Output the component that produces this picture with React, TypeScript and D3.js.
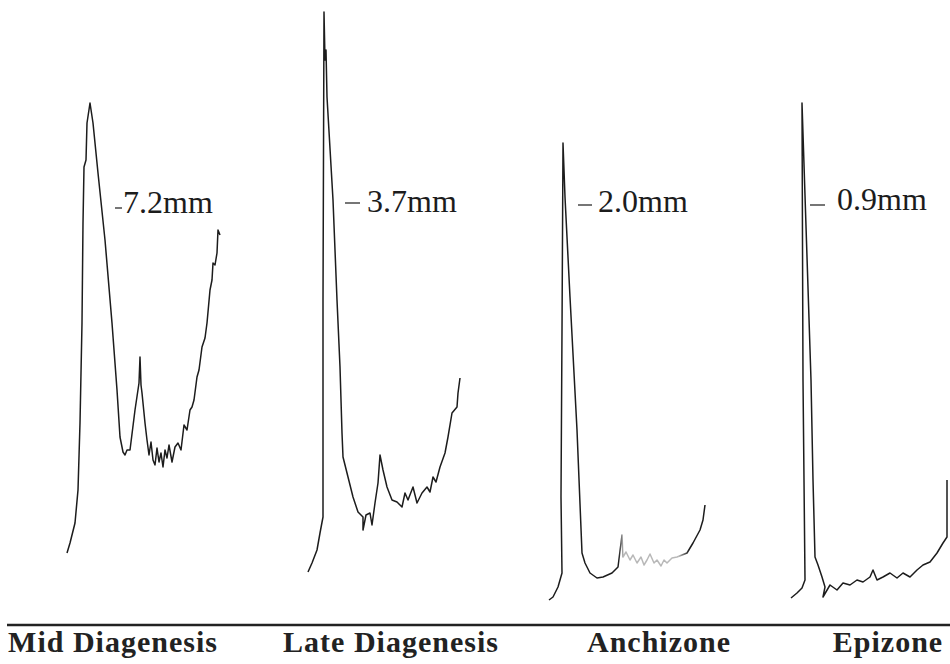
import * as d3 from "d3";
import { useEffect, useRef } from "react";

// categories (grades of metamorphism) and the peak widths
const categories = ["Mid Diagenesis", "Late Diagenesis", "Anchizone", "Epizone"];
const widths = ["7.2mm", "3.7mm", "2.0mm", "0.9mm"];

// traces: [position along the scan, intensity]
const midDiagenesis: [number, number][] = [
  [7, 57], [10, 67], [15, 87], [18, 120], [20, 187], [22, 287], [23, 387], [24, 443],
  [26, 450], [27, 487], [30, 507], [33, 487], [38, 437], [45, 370], [52, 287], [57, 220],
  [60, 173], [63, 158], [65, 155], [67, 160], [70, 160], [75, 200], [79, 227], [80, 253],
  [81, 225], [82, 217], [85, 187], [87, 170], [89, 155], [91, 168], [93, 150], [95, 145],
  [97, 162], [99, 148], [101, 157], [103, 143], [105, 160], [107, 152], [109, 165],
  [112, 148], [115, 163], [118, 167], [121, 160], [124, 185], [127, 180], [130, 200],
  [132, 203], [134, 210], [137, 233], [139, 240], [142, 263], [145, 272], [147, 287],
  [150, 320], [152, 330], [153, 347], [155, 345], [157, 357], [158, 380], [160, 375],
];

const lateDiagenesis: [number, number][] = [
  [6, 38], [10, 47], [15, 60], [18, 77], [21, 93], [21, 310], [22, 598], [23, 550],
  [24, 560], [25, 513], [31, 410], [35, 310], [38, 243], [40, 177], [41, 153], [46, 133],
  [51, 113], [56, 98], [61, 93], [61, 80], [64, 95], [68, 97], [70, 85], [73, 107],
  [76, 127], [78, 155], [81, 140], [85, 123], [90, 110], [95, 108], [100, 103], [103, 117],
  [106, 110], [111, 123], [115, 107], [120, 117], [125, 123], [128, 118], [131, 133],
  [134, 128], [138, 143], [143, 157], [146, 173], [150, 197], [155, 203], [156, 217],
  [158, 232],
];

const anchizone: [number, number][] = [
  [5, 10], [9, 13], [14, 23], [18, 37], [17, 113], [18, 280], [19, 467], [21, 413],
  [26, 313], [33, 180], [38, 57], [41, 47], [46, 37], [53, 32], [59, 33], [68, 37],
  [74, 43], [78, 75], [79, 53], [82, 58], [86, 50], [89, 55], [93, 47], [97, 53],
  [100, 45], [103, 50], [106, 56], [110, 47], [113, 50], [117, 44], [120, 50], [123, 47],
  [128, 52], [133, 53], [138, 55], [143, 57], [149, 67], [156, 80], [159, 90], [161, 105],
];

const epizone: [number, number][] = [
  [5, 12], [11, 17], [16, 22], [19, 30], [17, 230], [16, 507], [25, 230], [27, 130],
  [29, 53], [32, 45], [36, 33], [39, 23], [37, 13], [44, 25], [51, 20], [57, 27],
  [64, 25], [71, 30], [77, 28], [84, 33], [87, 40], [91, 30], [97, 33], [104, 37],
  [111, 32], [117, 37], [124, 33], [131, 40], [137, 45], [144, 48], [151, 57],
  [157, 67], [161, 73], [161, 130],
];

const traces = [midDiagenesis, lateDiagenesis, anchizone, epizone];

// width markers next to each peak: dash start, dash length, text start, heights
const annot = [
  { dash: 55, len: 7, text: 63, y: 402, base: 397 },
  { dash: 43, len: 15, text: 65, y: 407, base: 398 },
  { dash: 34, len: 14, text: 54, y: 405, base: 398 },
  { dash: 24, len: 15, text: 51, y: 405, base: 400 },
];
const labelCenters = [113, 391, 659, 888];

const W = 950;
const H = 664;
const ink = "#1c1c1c";

const App = () => {
  const chartRef = useRef<SVGSVGElement>(null);

  useEffect(() => {
    const svg = d3.select(chartRef.current);
    svg.selectAll("*").remove();

    // one band per sample, intensity shared by all of them
    const band = d3.scaleBand().domain(categories).range([60, 60 + 4 * 242]);
    const x = d3.scaleLinear().domain([0, 170]).range([0, 170]);
    const y = d3.scaleLinear().domain([0, 600]).range([610, 10]);

    const defs = svg.append("defs");
    // the Anchizone background noise is printed faded
    const grad = defs.append("linearGradient")
      .attr("id", "fade")
      .attr("gradientUnits", "userSpaceOnUse")
      .attr("x1", band("Anchizone")! + 75).attr("x2", band("Anchizone")! + 145)
      .attr("y1", 0).attr("y2", 0);
    grad.append("stop").attr("offset", 0).attr("stop-color", ink);
    grad.append("stop").attr("offset", 0.06).attr("stop-color", "#b8b8b8");
    grad.append("stop").attr("offset", 0.85).attr("stop-color", "#b8b8b8");
    grad.append("stop").attr("offset", 1).attr("stop-color", ink);

    categories.forEach((c, i) => {
      const x0 = band(c)!;
      const line = d3.line<[number, number]>()
        .x(d => x0 + x(d[0]))
        .y(d => y(d[1]));

      svg.append("path")
        .datum(traces[i])
        .attr("d", line)
        .attr("fill", "none")
        .attr("stroke", c === "Anchizone" ? "url(#fade)" : ink)
        .attr("stroke-width", 1.5)
        .attr("stroke-linejoin", "round");

      const a = annot[i];
      svg.append("line")
        .attr("x1", x0 + x(a.dash)).attr("x2", x0 + x(a.dash + a.len))
        .attr("y1", y(a.y)).attr("y2", y(a.y))
        .attr("stroke", ink)
        .attr("stroke-width", 1.2);
      svg.append("text")
        .attr("x", x0 + x(a.text))
        .attr("y", y(a.base))
        .attr("font-family", "'Liberation Serif', 'Times New Roman', serif")
        .attr("font-size", 32)
        .attr("fill", ink)
        .text(widths[i]);

      svg.append("text")
        .attr("x", labelCenters[i])
        .attr("y", 652)
        .attr("text-anchor", "middle")
        .attr("font-family", "'Liberation Serif', 'Times New Roman', serif")
        .attr("font-weight", "bold")
        .attr("font-size", 30)
        .attr("letter-spacing", 1)
        .attr("fill", "#222")
        .text(c);
    });

    // rule above the labels
    svg.append("line")
      .attr("x1", 7).attr("x2", W)
      .attr("y1", 625).attr("y2", 625)
      .attr("stroke", "#222")
      .attr("stroke-width", 2.5);
  }, []);

  return (
    <svg
      ref={chartRef}
      width={W}
      height={H}
      style={{ position: "absolute", left: 0, top: 0, background: "#fff" }}
    ></svg>
  );
};

export default App;
